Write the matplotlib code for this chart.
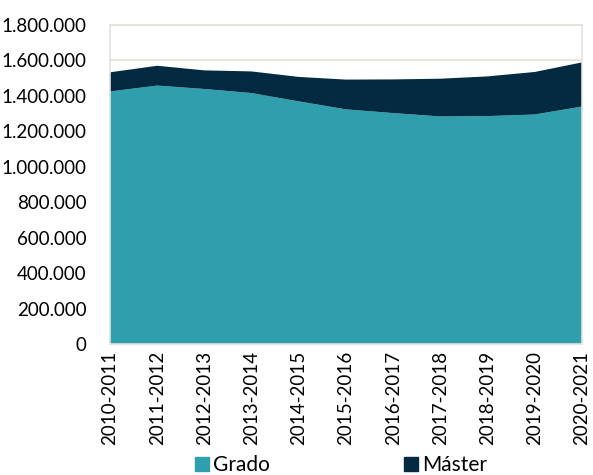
import numpy as np
import matplotlib.pyplot as plt
from matplotlib.ticker import FuncFormatter
from matplotlib.patches import Patch

# alumnos matriculados por curso académico
cursos = ['2010-2011', '2011-2012', '2012-2013', '2013-2014', '2014-2015',
          '2015-2016', '2016-2017', '2017-2018', '2018-2019', '2019-2020',
          '2020-2021']
grado = [1425000, 1458000, 1439000, 1416000, 1369000, 1324000,
         1303000, 1284000, 1286000, 1295000, 1340000]
master = [108000, 112000, 105000, 122000, 138000, 168000,
          190000, 213000, 224000, 240000, 249000]

col_grado = '#2F9FAE'
col_master = '#032A40'
gris = '#E4E0DC'

plt.rcParams['font.family'] = ['Lato', 'DejaVu Sans']

fig = plt.figure(figsize=(5.93, 4.75), dpi=100)
ax = fig.add_axes([110 / 593, 1 - 344 / 475, 472 / 593, 319 / 475])

x = np.arange(len(cursos))
ax.stackplot(x, grado, master, colors=[col_grado, col_master], linewidth=0, zorder=2)

ax.set_xlim(0, len(cursos) - 1)
ax.set_ylim(0, 1800000)
ax.set_yticks(np.arange(0, 1800001, 200000))
ax.yaxis.set_major_formatter(FuncFormatter(lambda v, p: f'{int(v):,}'.replace(',', '.')))
ax.set_xticks(x)
ax.set_xticklabels(cursos, rotation=90)
ax.tick_params(axis='both', length=0, labelsize=13.5, colors='black')
ax.tick_params(axis='x', pad=5)
ax.tick_params(axis='y', pad=17)
ax.grid(axis='y', color=gris, linewidth=1.2, zorder=0)
ax.set_axisbelow(True)
for s in ax.spines.values():
    s.set_color(gris)
    s.set_linewidth(1.2)

handles = [Patch(color=col_grado, label='Grado'), Patch(color=col_master, label='Máster')]
fig.legend(handles=handles, loc='lower center', bbox_to_anchor=(0.575, -0.04), ncol=2,
           frameon=False, fontsize=15, handlelength=0.7, handleheight=0.7,
           handletextpad=0.2, columnspacing=6.4)

fig.savefig('out.png', dpi=100)
